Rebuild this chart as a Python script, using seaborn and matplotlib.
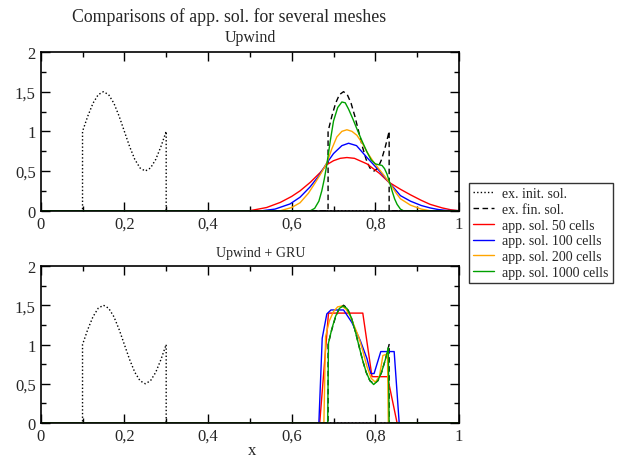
import matplotlib
matplotlib.use("Agg")
import matplotlib.pyplot as plt
from matplotlib.ticker import MultipleLocator, FuncFormatter
import seaborn as sns

# ---- exact solutions ----
init_x = [0.0, 0.1, 0.1, 0.1125, 0.125, 0.1375, 0.15, 0.1625, 0.175, 0.1875, 0.2,
          0.2125, 0.225, 0.2375, 0.25, 0.2625, 0.275, 0.2875, 0.3, 0.3, 1.0]
init_y = [0.0, 0.0, 1.0, 1.191, 1.354, 1.462, 1.5, 1.462, 1.354, 1.191, 1.0,
          0.809, 0.646, 0.538, 0.5, 0.538, 0.646, 0.809, 1.0, 0.0, 0.0]

fin_x = [0.0, 0.687, 0.687, 0.696, 0.705, 0.714, 0.724, 0.733, 0.742, 0.751, 0.760,
         0.769, 0.778, 0.787, 0.797, 0.806, 0.815, 0.824, 0.833, 0.833, 1.0]
fin_y = [0.0, 0.0, 1.0, 1.191, 1.354, 1.462, 1.5, 1.462, 1.354, 1.191, 1.0,
         0.809, 0.646, 0.538, 0.5, 0.538, 0.646, 0.809, 1.0, 0.0, 0.0]

# ---- Upwind scheme ----
up50_x = [0.0, 0.50, 0.54, 0.573, 0.60, 0.62, 0.645, 0.668, 0.684, 0.70, 0.716, 0.732,
          0.75, 0.78, 0.81, 0.832, 0.86, 0.884, 0.91, 0.931, 0.96, 0.98, 1.0]
up50_y = [0.0, 0.0, 0.04, 0.105, 0.18, 0.25, 0.36, 0.48, 0.58, 0.63, 0.66, 0.67,
          0.66, 0.59, 0.47, 0.36, 0.27, 0.20, 0.13, 0.08, 0.035, 0.012, 0.0]

up100_x = [0.0, 0.53, 0.56, 0.596, 0.62, 0.644, 0.665, 0.684, 0.70, 0.72, 0.736, 0.755,
           0.78, 0.81, 0.834, 0.86, 0.884, 0.91, 0.931, 0.95, 0.97, 1.0]
up100_y = [0.0, 0.0, 0.02, 0.085, 0.17, 0.30, 0.44, 0.60, 0.72, 0.82, 0.85, 0.82,
           0.67, 0.50, 0.35, 0.19, 0.12, 0.065, 0.035, 0.015, 0.003, 0.0]

up200_x = [0.0, 0.573, 0.60, 0.62, 0.64, 0.656, 0.67, 0.684, 0.696, 0.708, 0.72, 0.732,
           0.744, 0.756, 0.77, 0.78, 0.795, 0.808, 0.82, 0.834, 0.85, 0.86, 0.884,
           0.91, 0.93, 1.0]
up200_y = [0.0, 0.0, 0.04, 0.10, 0.22, 0.35, 0.47, 0.60, 0.78, 0.93, 1.00, 1.02,
           1.00, 0.95, 0.84, 0.74, 0.62, 0.53, 0.45, 0.35, 0.22, 0.15, 0.07,
           0.02, 0.0, 0.0]

up1000_x = [0.0, 0.645, 0.655, 0.665, 0.672, 0.678, 0.684, 0.692, 0.70, 0.71, 0.72,
            0.728, 0.736, 0.746, 0.756, 0.768, 0.78, 0.79, 0.80, 0.808, 0.816, 0.822,
            0.828, 0.834, 0.84, 0.846, 0.852, 0.86, 0.867, 1.0]
up1000_y = [0.0, 0.0, 0.03, 0.12, 0.25, 0.40, 0.58, 0.87, 1.13, 1.30, 1.37,
            1.36, 1.28, 1.16, 1.03, 0.88, 0.74, 0.64, 0.59, 0.58, 0.57, 0.53,
            0.46, 0.36, 0.25, 0.15, 0.08, 0.02, 0.0, 0.0]

# ---- Upwind + GRU scheme ----
gru50_x = [0.0, 0.667, 0.688, 0.770, 0.792, 0.829, 0.852, 1.0]
gru50_y = [0.0, 0.0, 1.40, 1.40, 0.59, 0.59, 0.0, 0.0]

gru100_x = [0.0, 0.665, 0.673, 0.684, 0.694, 0.724, 0.744, 0.764, 0.78, 0.789, 0.797,
            0.813, 0.845, 0.857, 1.0]
gru100_y = [0.0, 0.0, 1.08, 1.39, 1.44, 1.44, 1.28, 1.05, 0.82, 0.63, 0.63,
            0.91, 0.91, 0.0, 0.0]

gru200_x = [0.0, 0.677, 0.681, 0.69, 0.70, 0.71, 0.72, 0.73, 0.74, 0.75, 0.76, 0.77,
            0.78, 0.79, 0.80, 0.81, 0.818, 0.829, 0.831, 1.0]
gru200_y = [0.0, 0.0, 1.10, 1.30, 1.42, 1.48, 1.49, 1.45, 1.36, 1.23, 1.10, 0.92,
            0.72, 0.57, 0.52, 0.60, 0.86, 0.88, 0.0, 0.0]

gru1000_x = [0.0, 0.686, 0.688, 0.696, 0.705, 0.714, 0.723, 0.732, 0.742, 0.751, 0.760,
             0.769, 0.778, 0.787, 0.796, 0.806, 0.815, 0.824, 0.831, 0.833, 1.0]
gru1000_y = [0.0, 0.0, 1.02, 1.20, 1.36, 1.46, 1.49, 1.46, 1.35, 1.19, 1.00,
             0.81, 0.65, 0.54, 0.49, 0.54, 0.65, 0.81, 0.96, 0.0, 0.0]

labels = ["ex. init. sol.", "ex. fin. sol.", "app. sol. 50 cells",
          "app. sol. 100 cells", "app. sol. 200 cells", "app. sol. 1000 cells"]
colors = ["black", "black", "#ff0000", "#0000ff", "#ffa500", "#00a000"]
styles = [(0, (1, 1.6)), (0, (4, 2.5)), "-", "-", "-", "-"]

sns.set_theme(style="ticks")
plt.rcParams["font.family"] = ["Liberation Serif", "DejaVu Serif"]

fig = plt.figure(figsize=(6.18, 4.64), dpi=100)
W, H = 618.0, 464.0
ax_top = fig.add_axes([40.7 / W, 1 - 211.7 / H, (459 - 40.7) / W, (211.7 - 53) / H])
ax_bot = fig.add_axes([40.7 / W, 1 - 424 / H, (459 - 40.7) / W, (424 - 267) / H])

comma = FuncFormatter(lambda v, pos: ("%g" % round(v, 6)).replace(".", ","))

panels = [
    (ax_top, [(init_x, init_y), (fin_x, fin_y), (up50_x, up50_y), (up100_x, up100_y),
              (up200_x, up200_y), (up1000_x, up1000_y)]),
    (ax_bot, [(init_x, init_y), (fin_x, fin_y), (gru50_x, gru50_y), (gru100_x, gru100_y),
              (gru200_x, gru200_y), (gru1000_x, gru1000_y)]),
]

for ax, series in panels:
    for (xs, ys), lab, col, ls in zip(series, labels, colors, styles):
        sns.lineplot(x=xs, y=ys, ax=ax, color=col, linestyle=ls, linewidth=1.0,
                     estimator=None, sort=False, label=lab)
    ax.set_xlim(0, 1)
    ax.set_ylim(0, 2)
    ax.xaxis.set_major_locator(MultipleLocator(0.2))
    ax.xaxis.set_minor_locator(MultipleLocator(0.1))
    ax.yaxis.set_major_locator(MultipleLocator(0.5))
    ax.yaxis.set_minor_locator(MultipleLocator(0.25))
    ax.xaxis.set_major_formatter(comma)
    ax.yaxis.set_major_formatter(comma)
    ax.tick_params(which="both", direction="in", top=True, right=True,
                   color="black", width=1.0)
    ax.tick_params(which="major", length=6.5, labelsize=12, pad=3.5)
    ax.tick_params(which="minor", length=3.5)
    for sp in ax.spines.values():
        sp.set_linewidth(1.2)
        sp.set_color("black")
    ax.set_xlabel("")
    ax.set_ylabel("")
    ax.get_legend().remove()

handles, _ = ax_top.get_legend_handles_labels()
leg = fig.legend(handles, labels, loc="center left",
                 bbox_to_anchor=(469 / W, 1 - 234 / H), fontsize=10,
                 frameon=True, fancybox=False, framealpha=1, edgecolor="#333333",
                 handlelength=1.5, handletextpad=0.6, labelspacing=0.2,
                 borderpad=0.3, borderaxespad=0)
leg.get_frame().set_linewidth(1.0)

fig.text(229 / W, 1 - 21.5 / H, "Comparisons of app. sol. for several meshes",
         ha="center", va="baseline", fontsize=12.8)
fig.text(250 / W, 1 - 41.5 / H, "Upwind", ha="center", va="baseline", fontsize=11.5)
fig.text(261 / W, 1 - 257.5 / H, "Upwind + GRU", ha="center", va="baseline", fontsize=10)
fig.text(252 / W, 1 - 455 / H, "x", ha="center", va="baseline", fontsize=12)

fig.savefig("out.png", dpi=100, facecolor="white")
